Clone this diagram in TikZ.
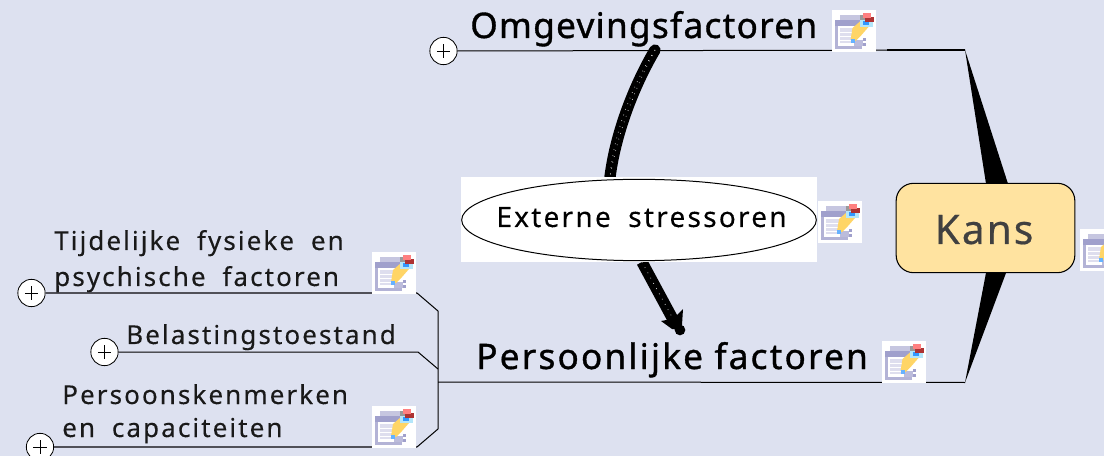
\documentclass[tikz,border=0pt]{standalone}
\usepackage{fontspec}
\usetikzlibrary{shapes.geometric}
\setmainfont{Noto Sans}
\newfontfamily\tahl[LetterSpace=8,FakeBold=0.2]{Noto Sans}
\newfontfamily\tahm[LetterSpace=3.6,FakeBold=1]{Noto Sans}
\newfontfamily\tahp[LetterSpace=6.2,FakeBold=1]{Noto Sans}
\newfontfamily\tahk[LetterSpace=5,FakeBold=0.5]{Noto Sans}
\definecolor{bg}{HTML}{DDE1F0}
\definecolor{kans}{HTML}{FFE3A0}
\definecolor{kanstxt}{HTML}{404040}
\definecolor{line}{HTML}{505058}
\definecolor{icp}{HTML}{A0A0CC}
\definecolor{icl}{HTML}{DEDEEE}
\newcommand{\wsp}{\hspace{6pt}}
\tikzset{
  x=0.75pt,y=-0.75pt,
  big/.style={inner sep=0,anchor=base west,font=\tahm\fontsize{26.4}{30}\selectfont,text=black},
  small/.style={inner sep=0,anchor=base west,font=\tahl\fontsize{19.5}{26}\selectfont,text=black!90},
  plus/.style={circle,draw=black,fill=white,line width=0.6pt,minimum size=20.5pt,inner sep=0,
     path picture={\draw[line width=0.4pt] ([xshift=-5pt]path picture bounding box.center)--([xshift=5pt]path picture bounding box.center)
       ([yshift=-5pt]path picture bounding box.center)--([yshift=5pt]path picture bounding box.center);}},
  conn/.style={line width=0.75pt,draw=black},
  connl/.style={line width=1.1pt,draw=line},
  iconbox/.style={fill=white,draw=none,minimum width=33pt,minimum height=31pt,inner sep=0},
}
\newcommand{\icon}[2]{%
  \node[iconbox] (#1) at #2 {};
  \begin{scope}[shift={#2}]
    \fill[icp!60] (-14,-16) rectangle (6,-11);
    \fill[icp] (-19,-11) rectangle (6,-5);
    \fill[icp!80] (-19,-5) rectangle (-16,18);
    \fill[icp!80] (-19,15) rectangle (8,18);
    \fill[icl] (-14,-3) rectangle (0,12);
    \draw[white,line width=0.5pt] (-14,1)--(0,1) (-14,5)--(0,5) (-14,9)--(0,9);
    \fill[icp!70] (0,9) rectangle (9,15);
    \fill[icp] (9,7) rectangle (12,10);
    \fill[icp] (9,12) rectangle (12,15);
    \fill[orange!55!yellow!60] (-3,9) -- (-1,-3) -- (7,-10) -- (15,-4) -- (8,4) -- (2,10) -- cycle;
    \fill[blue!50!cyan!60] (-3,8) rectangle (1,12);
    \fill[cyan!30] (6,-11) rectangle (19,-4);
    \fill[blue!50!cyan!80] (9,-10) rectangle (15,-6);
    \fill[black!40] (6,-16) rectangle (11,-11);
    \fill[red!60!black!80] (11,-14) rectangle (20,-9);
    \fill[red!50!white] (9,-18) rectangle (17,-13);
  \end{scope}}
\begin{document}
\begin{tikzpicture}
\useasboundingbox (0,0) rectangle (1104,456);
\fill[bg] (0,0) rectangle (1104,456);
% anchor coordinates
\coordinate (tr) at (965,50);
\coordinate (br) at (965,382.5);
\coordinate (hub) at (438,382);
\coordinate (t1) at (417,293);
\coordinate (t1b) at (438,311);
\coordinate (t2) at (418,352);
\coordinate (t2b) at (438,369);
\coordinate (t3) at (417,447);
\coordinate (t3b) at (438,429);
% Kans wedges
\coordinate (wa) at (987,190);
\coordinate (wb) at (1010,190);
\coordinate (wc) at (987.5,265);
\coordinate (wd) at (1009,265);
\fill[black] (tr) -- (wa) -- (wb) -- cycle;
\fill[black] (br) -- (wc) -- (wd) -- cycle;
% Plus buttons
\node[plus] (p0) at (443.5,51) {};
\node[plus] (p1) at (31.5,293) {};
\node[plus] (p2) at (104.5,352) {};
\node[plus] (p3) at (40,447) {};
% Connectors
\draw[conn] (p0) -- (tr);
\draw[line width=1.4pt] (887,50) -- (tr);
\draw[conn] (hub) -- (br);
\draw[line width=1.4pt] (926,382.5) -- (br);
\draw[connl] (p1) -- (t1);
\draw[conn] (t1) -- (t1b) -- (t3b) -- (t3);
\draw[connl] (t3) -- (p3);
\draw[conn] (p2) -- (t2) -- (t2b);
% Icons
\icon{i1}{(853.5,31)}
\icon{i2}{(840,222)}
\icon{i3}{(1102,250)}
\icon{i4}{(903.5,362)}
\icon{i5}{(394,273)}
\icon{i6}{(394,427)}
% Thick curved connectors
\coordinate (c1) at (655,50);
\coordinate (c2) at (610,177);
\coordinate (c3) at (642,262);
\coordinate (c4) at (676,325);
\draw[line width=8.5pt,line cap=round] (c1) .. controls (636,82) and (616,130) .. (c2);
\draw[white,line width=0.5pt,dash pattern=on 0.5pt off 4pt,xshift=-1.5pt] (c1) .. controls (636,82) and (616,130) .. (c2);
\draw[white,line width=0.5pt,dash pattern=on 0.5pt off 4pt,xshift=1.5pt] (c1) .. controls (636,82) and (616,130) .. (c2);
\draw[line width=8.5pt] (c3) -- (c4);
\draw[white,line width=0.5pt,dash pattern=on 0.5pt off 4pt] (c3) -- (672,317);
\fill[black] (661,321) -- (672,319) -- (677,315) -- (683,309) -- (682,325) -- (680,330) -- (672,329) -- cycle;
\fill[black] (680,330) circle (4pt);
% Ellipse block
\fill[white] (461,177) rectangle (817,262);
\node[ellipse,draw=black,fill=white,line width=0.75pt,minimum width=266pt,minimum height=61pt,inner sep=0] (ext) at (639,220) {};
\node[small,text=black,anchor=base] (extl) at (641.5,227) {\fontsize{21}{26}\selectfont Externe\hspace{6pt} stressoren};
% Kans box
\node[draw=black,fill=kans,rounded corners=13pt,line width=0.8pt,minimum width=134pt,minimum height=67pt,inner sep=0] (kans) at (985.5,228) {};
\node[inner sep=0,anchor=base,text=kanstxt,font=\tahk\fontsize{30.5}{34}\selectfont] (kanst) at (984,244) {Kans};
% Labels
\node[big] (om) at (470,38) {Omgevingsfactoren};
\node[big,font=\tahp\fontsize{26.4}{30}\selectfont] (pf) at (476,369) {Persoonlijke factoren};
\node[small] (a1) at (54,250) {Tijdelijke\wsp{} fysieke\wsp{} en};
\node[small] (a2) at (54,286) {psychische\wsp{} factoren};
\node[small] (b1) at (126,344) {Belastingstoestand};
\node[small] (c1t) at (62,404) {Persoonskenmerken};
\node[small] (c2t) at (62,437) {en\wsp{} capaciteiten};
\end{tikzpicture}
\end{document}
